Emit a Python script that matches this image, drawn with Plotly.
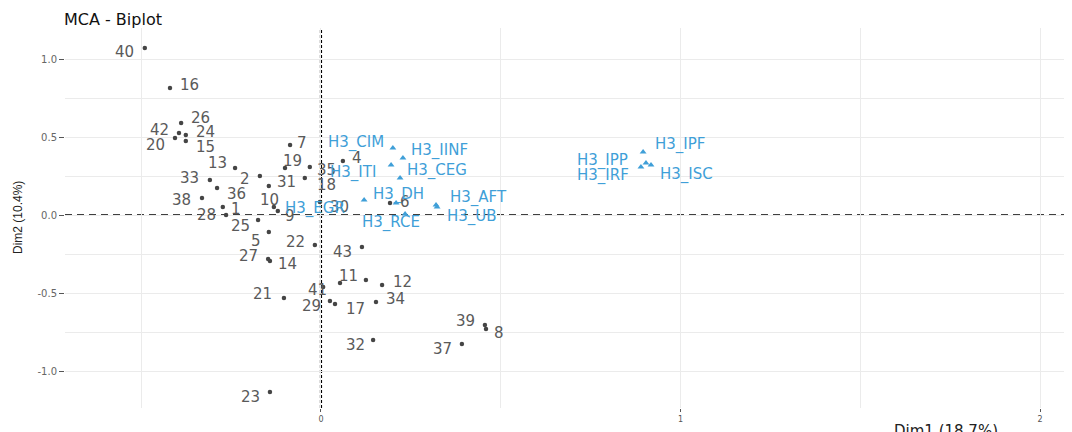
import plotly.graph_objects as go

# ---------------- data ----------------
ind_labels = ["1", "2", "3", "4", "5", "6", "7", "8", "9", "10",
              "11", "12", "13", "14", "15", "16", "17", "18", "19", "20",
              "21", "22", "23", "24", "25", "26", "27", "28", "29", "30",
              "31", "32", "33", "34", "35", "36", "37", "38", "39", "40",
              "41", "42", "43"]
ind_x = [-0.273, -0.170, 0.125, 0.061, -0.145, 0.192, -0.086, 0.459, -0.120, -0.131,
         0.053, 0.170, -0.239, -0.142, -0.376, -0.420, 0.039, -0.045, -0.100, -0.406,
         -0.103, -0.017, -0.142, -0.376, -0.175, -0.389, -0.147, -0.264, 0.025, -0.003,
         -0.145, 0.145, -0.309, 0.153, -0.031, -0.289, 0.392, -0.331, 0.456, -0.490,
         0.006, -0.395, 0.114]
ind_y = [0.051, 0.250, -0.417, 0.346, -0.109, 0.077, 0.449, -0.731, 0.026, 0.051,
         -0.436, -0.449, 0.301, -0.295, 0.474, 0.814, -0.571, 0.237, 0.301, 0.494,
         -0.532, -0.192, -1.135, 0.513, -0.032, 0.590, -0.282, 0.000, -0.551, 0.083,
         0.186, -0.801, 0.224, -0.558, 0.308, 0.173, -0.827, 0.109, -0.705, 1.071,
         -0.462, 0.526, -0.205]

var_labels = ["H3_CIM", "H3_IINF", "H3_ITI", "H3_CEG", "H3_DH", "H3_EGR", "H3_AFT",
              "H3_UB", "H3_RCE", "H3_IPF", "H3_IPP", "H3_IRF", "H3_ISC"]
var_x = [0.200, 0.228, 0.195, 0.220, 0.120, 0.209, 0.320,
         0.323, 0.234, 0.896, 0.904, 0.890, 0.918]
var_y = [0.429, 0.365, 0.321, 0.237, 0.096, 0.077, 0.064,
         0.051, 0.006, 0.404, 0.333, 0.308, 0.321]

x_tick_vals = [0, 1, 2]
x_tick_text = ["0", "1", "2"]
y_tick_vals = [-1.0, -0.5, 0.0, 0.5, 1.0]
y_tick_text = ["-1.0", "-0.5", "0.0", "0.5", "1.0"]

title_text = "MCA - Biplot"
x_title = "Dim1 (18.7%)"
y_title = "Dim2 (10.4%)"

# ---------------- label placement (repel-like pixel offsets, y down) ----------------
ind_label_offset = {
    "1": (13, 2), "2": (-15, 3), "4": (14, -3), "5": (-13, 9), "6": (15, -1),
    "7": (12, -2), "8": (13, 4), "9": (12, 5), "10": (-4, -7), "11": (8, -7),
    "12": (20, -3), "13": (-18, -5), "14": (18, 3), "15": (20, 6), "16": (20, -3),
    "17": (20, 5), "18": (22, 7), "19": (7, -7), "20": (-20, 7), "21": (-21, -4),
    "22": (-19, -3), "23": (-19, 5), "24": (20, -3), "25": (-18, 6), "26": (19, -5),
    "27": (-20, -3), "28": (-20, 0), "29": (-18, 5), "30": (20, 5), "31": (18, -4),
    "32": (-18, 5), "33": (-20, -2), "34": (20, -3), "35": (17, 3), "36": (19, 6),
    "37": (-19, 5), "38": (-20, 2), "39": (-19, -4), "40": (-20, 4), "41": (-6, 3),
    "42": (-19, -3), "43": (-19, 5),
}
var_label_offset = {
    "H3_CIM": (-37, -6), "H3_IINF": (37, -8), "H3_ITI": (-38, 8), "H3_CEG": (37, -8),
    "H3_DH": (34, -6), "H3_EGR": (-81, 5), "H3_AFT": (42, -8), "H3_UB": (35, 9),
    "H3_RCE": (-14, 8), "H3_IPF": (37, -8), "H3_IPP": (-43, -3), "H3_IRF": (-38, 9),
    "H3_ISC": (35, 10),
}

IND_COL = "#454545"
IND_TXT = "#5a5a5a"
VAR_COL = "#3f9fd8"
GRID = "#ebebeb"
LBL_FONT = "DejaVu Sans"

fig = go.Figure()

fig.add_trace(go.Scatter(
    x=ind_x, y=ind_y, mode="markers", text=ind_labels, hoverinfo="text",
    marker=dict(color=IND_COL, size=4.5, symbol="circle"),
    showlegend=False,
))
fig.add_trace(go.Scatter(
    x=var_x, y=var_y, mode="markers", text=var_labels, hoverinfo="text",
    marker=dict(color=VAR_COL, size=6, symbol="triangle-up"),
    showlegend=False,
))

annotations = []
for lab, x, y in zip(ind_labels, ind_x, ind_y):
    if lab not in ind_label_offset:
        continue
    dx, dy = ind_label_offset[lab]
    annotations.append(dict(
        x=x, y=y, xref="x", yref="y", text=lab, showarrow=False,
        xanchor="center", yanchor="middle", xshift=dx, yshift=-dy,
        font=dict(family=LBL_FONT, size=15, color=IND_TXT),
    ))
for lab, x, y in zip(var_labels, var_x, var_y):
    dx, dy = var_label_offset[lab]
    annotations.append(dict(
        x=x, y=y, xref="x", yref="y", text=lab, showarrow=False,
        xanchor="center", yanchor="middle", xshift=dx, yshift=-dy,
        font=dict(family=LBL_FONT, size=15, color=VAR_COL),
    ))

# title and axis titles
annotations.append(dict(
    x=0, y=1, xref="paper", yref="paper", text=title_text, showarrow=False,
    xanchor="left", yanchor="bottom", xshift=-3, yshift=-3,
    font=dict(family=LBL_FONT, size=16, color="#111111"),
))
annotations.append(dict(
    x=0.875, y=0, xref="paper", yref="paper", text=x_title, showarrow=False,
    xanchor="center", yanchor="top", yshift=-12,
    font=dict(family=LBL_FONT, size=15, color="#222222"),
))
annotations.append(dict(
    x=0, y=0.5, xref="paper", yref="paper", text=y_title, showarrow=False,
    xanchor="center", yanchor="middle", xshift=-47, textangle=-90,
    font=dict(family="Liberation Sans", size=12, color="#222222"),
))

# page body has an 8px margin: size/margins compensate so the panel sits at 65..1072 x 28..408
fig.update_layout(
    width=1064, height=424,
    margin=dict(l=57, r=0, t=20, b=24),
    paper_bgcolor="white", plot_bgcolor="white",
    annotations=annotations,
    shapes=[
        dict(type="line", xref="x", yref="paper", x0=0, x1=0, y0=0, y1=1,
             line=dict(color="#000000", width=2.2, dash="3px,2px"), layer="below"),
        dict(type="line", xref="paper", yref="y", x0=0, x1=1, y0=0, y1=0,
             line=dict(color="#000000", width=1.4, dash="7px,5px"), layer="below"),
    ],
)

fig.update_xaxes(
    range=[-0.712, 2.089], tickvals=x_tick_vals, ticktext=x_tick_text,
    showgrid=True, gridcolor=GRID, gridwidth=1, zeroline=False,
    minor=dict(tickvals=[-0.5, 0.5, 1.5], showgrid=True, gridcolor=GRID, gridwidth=1, ticks=""),
    ticks="outside", ticklen=3, tickcolor="#555555", tickwidth=1,
    tickfont=dict(family=LBL_FONT, size=8, color="#555555"),
    showline=False,
)
fig.update_yaxes(
    range=[-1.237, 1.199], tickvals=y_tick_vals, ticktext=y_tick_text,
    showgrid=True, gridcolor=GRID, gridwidth=1, zeroline=False,
    minor=dict(tickvals=[-0.75, -0.25, 0.25, 0.75], showgrid=True, gridcolor=GRID, gridwidth=1, ticks=""),
    ticks="outside", ticklen=5, tickcolor="#555555", tickwidth=1,
    tickfont=dict(family=LBL_FONT, size=10, color="#666666"),
    showline=False,
)

fig.write_html("out.html")
